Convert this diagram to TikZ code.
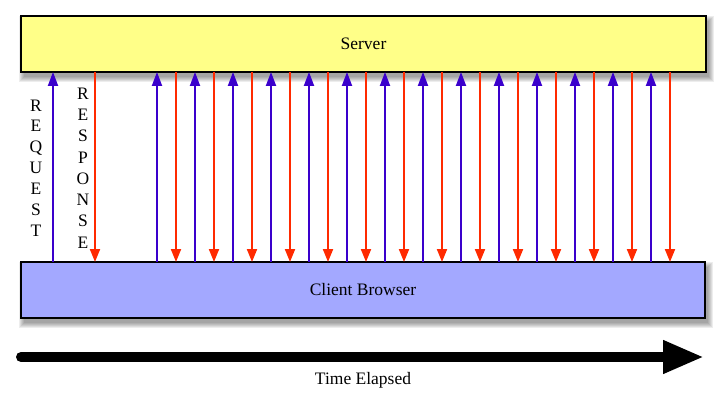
\documentclass[tikz,border=0pt]{standalone}
\usepackage{fontspec}
\setmainfont{Liberation Serif}
\usetikzlibrary{arrows.meta}
\definecolor{srvfill}{HTML}{FFFF88}
\definecolor{cltfill}{HTML}{A3A8FF}
\definecolor{reqblue}{HTML}{3A00CC}
\definecolor{resred}{HTML}{FF2A00}
\begin{document}
\begin{tikzpicture}[x=1pt,y=-1pt,
  box/.style={draw=black, line width=2pt, outer sep=0pt, inner sep=0pt, font=\fontsize{17.5}{21}\selectfont},
  req/.style={draw=reqblue, line width=2pt, -{Triangle[length=14pt,width=10pt]}},
  res/.style={draw=resred, line width=2pt, -{Triangle[length=13pt,width=10pt]}},
  vlabel/.style={align=center, inner sep=0pt},
  shadowlayer/.style={fill=black, opacity=0.07},
  lbl/.style={inner sep=0pt, font=\fontsize{17.5}{21}\selectfont}]
\useasboundingbox (0,0) rectangle (726,401);
% soft shadows
\foreach \k in {0,...,5} {
  \fill[shadowlayer] (24-\k,21-\k) rectangle (709+\k,77+\k);
  \fill[shadowlayer] (24-\k,267-\k) rectangle (708+\k,323+\k);
}
% boxes
\node[box, fill=srvfill, minimum width=685pt, minimum height=56pt] (server) at (363.5,44) {Server};
\node[box, fill=cltfill, minimum width=684pt, minimum height=56pt] (client) at (363,290) {Client Browser};
% requests and responses
\foreach \x in {53,157,195,...,651}
  \draw[req] (client.north -| \x,0) -- (server.south -| \x,0);
\foreach \x in {95,176,214,...,670}
  \draw[res] (server.south -| \x,0) -- (client.north -| \x,0);
% vertical labels
\node[vlabel, font=\fontsize{17.5}{20.9}\selectfont] (reqlbl) at (36,168) {R\\E\\Q\\U\\E\\S\\T};
\node[vlabel, font=\fontsize{17.5}{21.3}\selectfont] (reslbl) at (83,168) {R\\E\\S\\P\\O\\N\\S\\E};
% time arrow
\coordinate (tstart) at (21,357);
\coordinate (tend) at (704,357);
\draw[line width=10pt, line cap=round, -{Triangle[length=41pt,width=31pt]}] (tstart) -- (tend);
\node[lbl] (timelbl) at (363,380) {Time Elapsed};
\end{tikzpicture}
\end{document}
